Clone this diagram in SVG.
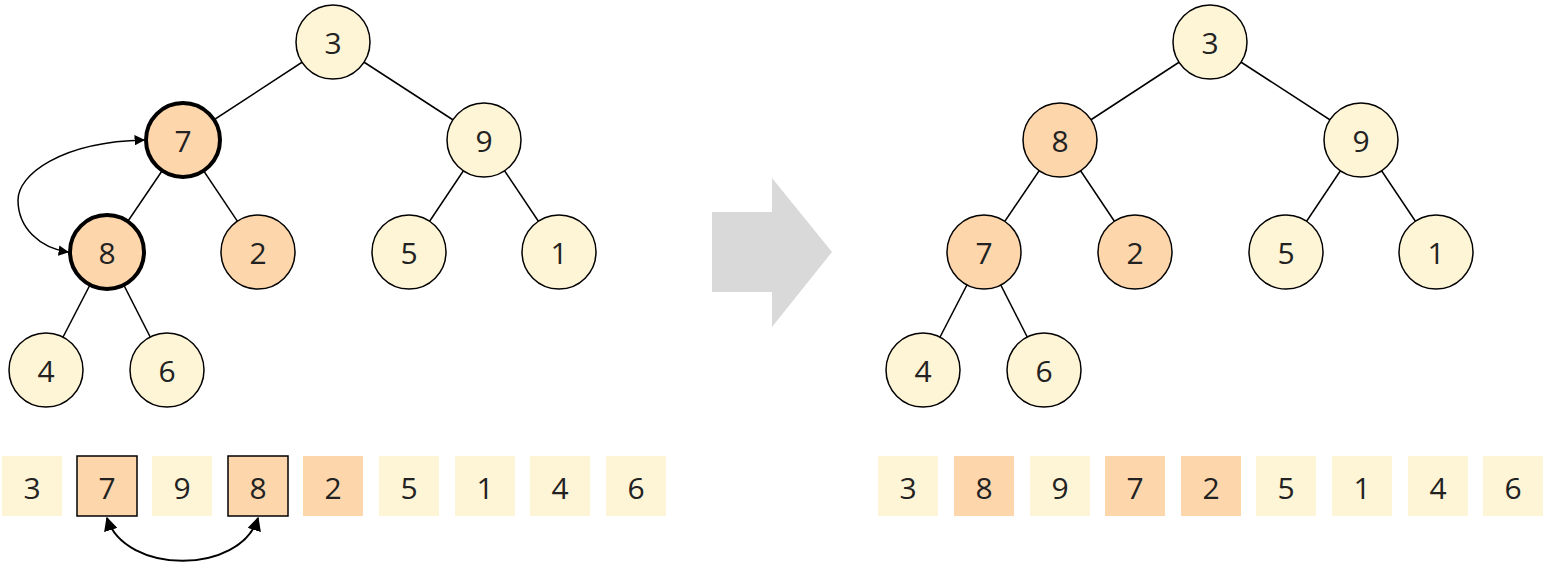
<svg xmlns="http://www.w3.org/2000/svg" width="1544" height="570" viewBox="0 0 1544 570">
<defs><marker id="ah" viewBox="0 0 10 10" refX="9" refY="5" markerWidth="7" markerHeight="7" orient="auto-start-reverse"><path d="M0,0L10,5L0,10z" fill="#000"/></marker></defs>
<style>
.n{stroke:#000;stroke-width:1.5}.l{fill:#fef4d6}.o{fill:#fdd6ab}.b{stroke-width:4}
text{font-family:"Open Sans","DejaVu Sans",sans-serif;font-size:30px;text-anchor:middle;dominant-baseline:central;fill:#222}
.c{stroke:none}.cb{stroke:#000;stroke-width:1.5}
line{stroke:#000;stroke-width:1.5}
</style>
<rect width="1544" height="570" fill="#fff"/>
<g id="edges">
<line x1="333" y1="42" x2="183" y2="140"/><line x1="333" y1="42" x2="484" y2="140"/>
<line x1="183" y1="140" x2="107" y2="252"/><line x1="183" y1="140" x2="258" y2="252"/>
<line x1="484" y1="140" x2="409" y2="252"/><line x1="484" y1="140" x2="559" y2="252"/>
<line x1="107" y1="252" x2="46" y2="370"/><line x1="107" y1="252" x2="167" y2="370"/>
<line x1="1210" y1="42" x2="1060" y2="140"/><line x1="1210" y1="42" x2="1361" y2="140"/>
<line x1="1060" y1="140" x2="984" y2="252"/><line x1="1060" y1="140" x2="1135" y2="252"/>
<line x1="1361" y1="140" x2="1286" y2="252"/><line x1="1361" y1="140" x2="1436" y2="252"/>
<line x1="984" y1="252" x2="923" y2="370"/><line x1="984" y1="252" x2="1044" y2="370"/>
<path d="M144,140 C60,142 18,175 18,200 C18,228 40,248 68,252" fill="none" stroke="#000" stroke-width="1.5" marker-start="url(#ah)" marker-end="url(#ah)"/>
<path d="M107,518 C125,575 240,575 258,518" fill="none" stroke="#000" stroke-width="2" marker-start="url(#ah)" marker-end="url(#ah)"/>
</g>
<g id="L3"><circle class="n l" cx="333" cy="42" r="37"/><text x="333" y="42">3</text></g>
<g id="L7"><circle class="n o b" cx="183" cy="140" r="37"/><text x="183" y="140">7</text></g>
<g id="L9"><circle class="n l" cx="484" cy="140" r="37"/><text x="484" y="140">9</text></g>
<g id="L8"><circle class="n o b" cx="107" cy="252" r="37"/><text x="107" y="252">8</text></g>
<g id="L2"><circle class="n o" cx="258" cy="252" r="37"/><text x="258" y="252">2</text></g>
<g id="L5"><circle class="n l" cx="409" cy="252" r="37"/><text x="409" y="252">5</text></g>
<g id="L1"><circle class="n l" cx="559" cy="252" r="37"/><text x="559" y="252">1</text></g>
<g id="L4"><circle class="n l" cx="46" cy="370" r="37"/><text x="46" y="370">4</text></g>
<g id="L6"><circle class="n l" cx="167" cy="370" r="37"/><text x="167" y="370">6</text></g>
<g id="R3"><circle class="n l" cx="1210" cy="42" r="37"/><text x="1210" y="42">3</text></g>
<g id="R8"><circle class="n o" cx="1060" cy="140" r="37"/><text x="1060" y="140">8</text></g>
<g id="R9"><circle class="n l" cx="1361" cy="140" r="37"/><text x="1361" y="140">9</text></g>
<g id="R7"><circle class="n o" cx="984" cy="252" r="37"/><text x="984" y="252">7</text></g>
<g id="R2"><circle class="n o" cx="1135" cy="252" r="37"/><text x="1135" y="252">2</text></g>
<g id="R5"><circle class="n l" cx="1286" cy="252" r="37"/><text x="1286" y="252">5</text></g>
<g id="R1"><circle class="n l" cx="1436" cy="252" r="37"/><text x="1436" y="252">1</text></g>
<g id="R4"><circle class="n l" cx="923" cy="370" r="37"/><text x="923" y="370">4</text></g>
<g id="R6"><circle class="n l" cx="1044" cy="370" r="37"/><text x="1044" y="370">6</text></g>
<polygon id="bigarrow" points="712,212 772,212 772,178 832,252 772,327 772,292 712,292" fill="#d9d9d9"/>
<g id="arrL">
<rect class="l" x="2" y="456" width="60" height="60"/><text x="32" y="487">3</text>
<rect class="o cb" x="77" y="456" width="60" height="60"/><text x="107" y="487">7</text>
<rect class="l" x="152" y="456" width="60" height="60"/><text x="182" y="487">9</text>
<rect class="o cb" x="228" y="456" width="60" height="60"/><text x="258" y="487">8</text>
<rect class="o" x="303" y="456" width="60" height="60"/><text x="333" y="487">2</text>
<rect class="l" x="379" y="456" width="60" height="60"/><text x="409" y="487">5</text>
<rect class="l" x="455" y="456" width="60" height="60"/><text x="485" y="487">1</text>
<rect class="l" x="530" y="456" width="60" height="60"/><text x="560" y="487">4</text>
<rect class="l" x="606" y="456" width="60" height="60"/><text x="636" y="487">6</text>
</g>
<g id="arrR">
<rect class="l" x="878" y="456" width="60" height="60"/><text x="908" y="487">3</text>
<rect class="o" x="954" y="456" width="60" height="60"/><text x="984" y="487">8</text>
<rect class="l" x="1030" y="456" width="60" height="60"/><text x="1060" y="487">9</text>
<rect class="o" x="1105" y="456" width="60" height="60"/><text x="1135" y="487">7</text>
<rect class="o" x="1181" y="456" width="60" height="60"/><text x="1211" y="487">2</text>
<rect class="l" x="1256" y="456" width="60" height="60"/><text x="1286" y="487">5</text>
<rect class="l" x="1332" y="456" width="60" height="60"/><text x="1362" y="487">1</text>
<rect class="l" x="1408" y="456" width="60" height="60"/><text x="1438" y="487">4</text>
<rect class="l" x="1483" y="456" width="60" height="60"/><text x="1513" y="487">6</text>
</g>
</svg>
